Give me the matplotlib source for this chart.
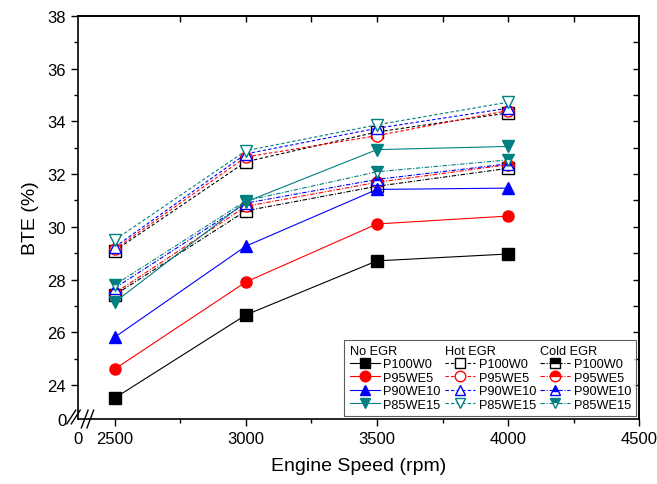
import matplotlib
matplotlib.use('Agg')
import matplotlib.pyplot as plt
from matplotlib.lines import Line2D

plt.rcParams['font.family'] = ['Liberation Sans', 'DejaVu Sans']

speed = [2500, 3000, 3500, 4000]
blends = ['P100W0', 'P95WE5', 'P90WE10', 'P85WE15']
groups = ['No EGR', 'Hot EGR', 'Cold EGR']

# BTE (%)
no_egr = {
    'P100W0': [23.51, 26.66, 28.71, 28.97],
    'P95WE5': [24.61, 27.91, 30.11, 30.41],
    'P90WE10': [25.82, 29.27, 31.42, 31.47],
    'P85WE15': [27.15, 30.95, 32.93, 33.05],
}
hot_egr = {
    'P100W0': [29.10, 32.47, 33.60, 34.32],
    'P95WE5': [29.16, 32.65, 33.46, 34.41],
    'P90WE10': [29.24, 32.77, 33.74, 34.50],
    'P85WE15': [29.51, 32.89, 33.87, 34.73],
}
cold_egr = {
    'P100W0': [27.42, 30.61, 31.54, 32.22],
    'P95WE5': [27.49, 30.78, 31.69, 32.36],
    'P90WE10': [27.68, 30.90, 31.80, 32.39],
    'P85WE15': [27.80, 30.99, 32.09, 32.54],
}

colors = {'P100W0': 'black', 'P95WE5': '#ff0000', 'P90WE10': '#0000ff', 'P85WE15': '#008080'}
markers = {'P100W0': 's', 'P95WE5': 'o', 'P90WE10': '^', 'P85WE15': 'v'}

fig = plt.figure(figsize=(6.57, 4.85), dpi=100)
ax = fig.add_axes([0.1187, 0.134, 0.854, 0.831])

xmin, ymin = 2359, 22.71

handles = {'no': [], 'hot': [], 'cold': []}
for b in blends:
    c, m = colors[b], markers[b]
    h, = ax.plot(speed, hot_egr[b], color=c, lw=0.8, ls=(0, (3, 2)), marker=m,
                 ms=8, mfc='white', mec=c, mew=1.0, zorder=3)
    handles['hot'].append(h)
for b in blends:
    c, m = colors[b], markers[b]
    h, = ax.plot(speed, cold_egr[b], color=c, lw=0.8, ls=(0, (4, 1.5, 1, 1.5)), marker=m,
                 ms=8, fillstyle='top', mfc=c, mfcalt='white', mec=c, mew=1.0, zorder=3)
    handles['cold'].append(h)
for b in blends:
    c, m = colors[b], markers[b]
    h, = ax.plot(speed, no_egr[b], color=c, lw=0.8, ls='-', marker=m,
                 ms=8, mfc=c, mec=c, zorder=4)
    handles['no'].append(h)

ax.set_xlim(xmin, 4500)
ax.set_ylim(ymin, 38)
ax.set_xticks([xmin, 2500, 3000, 3500, 4000, 4500], ['0', '2500', '3000', '3500', '4000', '4500'])
ax.set_yticks([ymin, 24, 26, 28, 30, 32, 34, 36, 38], ['0', '24', '26', '28', '30', '32', '34', '36', '38'])
ax.set_xticks([2750, 3250, 3750, 4250], minor=True)
ax.set_yticks([25, 27, 29, 31, 33, 35, 37], minor=True)
ax.tick_params(which='major', direction='out', length=5, width=1, labelsize=12)
ax.tick_params(which='minor', direction='out', length=3, width=1)
ax.xaxis.get_major_ticks()[0].tick1line.set_visible(False)
ax.yaxis.get_major_ticks()[0].tick1line.set_visible(False)
for s in ax.spines.values():
    s.set_linewidth(1.2)

# mirrored ticks on top and right, pointing in
top = ax.secondary_xaxis('top')
top.set_xticks([3000, 3500, 4000], [])
top.set_xticks([2750, 3250, 3750, 4250], minor=True)
top.tick_params(which='both', direction='in', length=4, width=1)
right = ax.secondary_yaxis('right')
right.set_yticks([24, 26, 28, 30, 32, 34, 36], [])
right.set_yticks([25, 27, 29, 31, 33, 35, 37], minor=True)
right.tick_params(which='both', direction='in', length=4, width=1)
top.spines['top'].set_linewidth(1.2)
right.spines['right'].set_linewidth(1.2)

ax.set_xlabel('Engine Speed (rpm)', fontsize=14, labelpad=8)
ax.set_ylabel('BTE (%)', fontsize=14, labelpad=6)

# axis break marks
kw = dict(transform=ax.transAxes, color='black', lw=1.0, clip_on=False)
for dx in (-0.012, -0.004):
    ax.plot([dx - 0.008, dx + 0.008], [-0.012, 0.022], **kw)
for dx in (0.012, 0.022):
    ax.plot([dx - 0.006, dx + 0.006], [-0.022, 0.022], **kw)

# legend: three columns, each headed by a group name
fs, hl, htp = 9.2, 2.4, 0.25
blank = Line2D([], [], ls='none')
leg_handles = [blank] + handles['no'] + [blank] + handles['hot'] + [blank] + handles['cold']
leg_labels = [' '] + blends + [' '] + blends + [' '] + blends
leg = ax.legend(leg_handles, leg_labels, ncol=3, loc='lower right',
                bbox_to_anchor=(0.9947, 0.0074), borderaxespad=0, fontsize=fs,
                frameon=True, fancybox=False, edgecolor='#333333', handlelength=hl,
                handletextpad=htp, columnspacing=0.3, labelspacing=0.12,
                borderpad=0.4, markerscale=0.95)
leg.get_frame().set_linewidth(0.8)

fig.canvas.draw()
inv = fig.transFigure.inverted()
shift = (hl + htp) * fs * fig.dpi / 72
for i, g in enumerate(groups):
    row = leg.get_texts()[i * 5 + 1].get_window_extent()
    head = leg.get_texts()[i * 5].get_window_extent()
    x0, y0 = inv.transform((row.x0 - shift, (head.y0 + head.y1) / 2))
    fig.text(x0, y0, g, fontsize=fs, va='center', ha='left')

fig.savefig('out.png', dpi=100)
